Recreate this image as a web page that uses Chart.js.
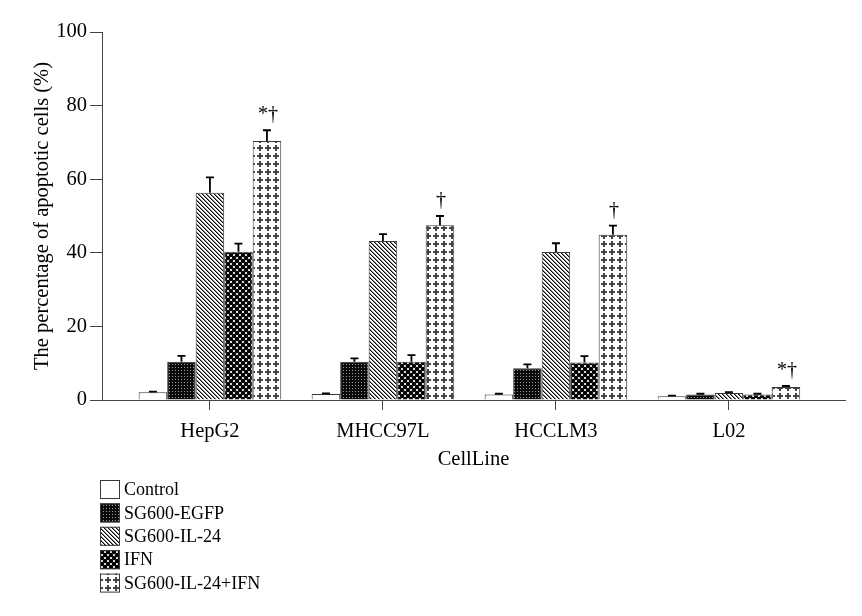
<!DOCTYPE html>
<html><head><meta charset="utf-8">
<script src="https://cdn.jsdelivr.net/npm/chart.js@4/dist/chart.umd.min.js"></script>
<style>html,body{margin:0;padding:0;background:#fff;}canvas{display:block;}</style>
</head><body>
<canvas id="c" width="862" height="616"></canvas>
<script>
// ---- data ----
const categories = ['HepG2', 'MHCC97L', 'HCCLM3', 'L02'];
const seriesNames = ['Control', 'SG600-EGFP', 'SG600-IL-24', 'IFN', 'SG600-IL-24+IFN'];
const control = [2.1, 1.6, 1.5, 1.0];
const egfp = [10.4, 10.4, 8.6, 1.5];
const il24 = [56.3, 43.2, 40.2, 1.9];
const ifn = [40.3, 10.4, 10.2, 1.5];
const combo = [70.4, 47.5, 44.9, 3.5];
const controlErr = [0.2, 0.2, 0.2, 0.2];
const egfpErr = [1.6, 0.9, 1.1, 0.2];
const il24Err = [4.2, 1.9, 2.4, 0.2];
const ifnErr = [2.2, 1.8, 1.7, 0.2];
const comboErr = [2.9, 2.5, 2.5, 0.3];
const comboMarks = ['*\u2020', '\u2020', '\u2020', '*\u2020'];
const yTicks = [0, 20, 40, 60, 80, 100];

// ---- patterns ----
function makePattern(size, draw) {
  const c = document.createElement('canvas');
  c.width = size; c.height = size;
  const g = c.getContext('2d');
  draw(g, size);
  return document.createElement('canvas').getContext('2d').createPattern(c, 'repeat');
}
const pWhite = '#ffffff';
const pEgfp = makePattern(3, (g, s) => {
  g.fillStyle = '#0a0a0a'; g.fillRect(0, 0, s, s);
  g.fillStyle = '#9a9a9a'; g.fillRect(1, 1, 1, 1);
});
const pIl24 = makePattern(4, (g, s) => {
  g.fillStyle = '#fff'; g.fillRect(0, 0, s, s);
  for (let i = 0; i < s; i++) {
    g.fillStyle = '#000'; g.fillRect(i, i, 1, 1);
    g.fillStyle = '#888'; g.fillRect((i + 1) % s, i, 1, 1);
  }
});
const pIfn = makePattern(6, (g, s) => {
  g.fillStyle = '#fff'; g.fillRect(0, 0, s, s);
  g.fillStyle = '#000';
  [[0,0],[6,0],[0,6],[6,6],[3,3]].forEach(([x,y]) => { g.beginPath(); g.arc(x, y, 2.2, 0, Math.PI*2); g.fill(); });
});
const pCombo = makePattern(8, (g, s) => {
  g.fillStyle = '#fff'; g.fillRect(0, 0, s, s);
  g.fillStyle = '#444';
  g.fillRect(1, 3, 6, 2);
  g.fillRect(3, 1, 2, 6);
});

const values = [control, egfp, il24, ifn, combo];
const errors = [controlErr, egfpErr, il24Err, ifnErr, comboErr];
const fills = [pWhite, pEgfp, pIl24, pIfn, pCombo];

const axisFont = { family: '"Liberation Serif", "Times New Roman", serif', size: 20.5 };
const legendFont = '18px "Liberation Serif", "Times New Roman", serif';

const datasets = values.map((arr, k) => ({
  label: seriesNames[k],
  data: arr.map((v, i) => ({ x: i, y: v })),
  backgroundColor: fills[k],
  borderColor: '#3a3a3a',
  borderWidth: 1,
  categoryPercentage: 0.824,
  barPercentage: 1.0
}));

const extras = {
  id: 'extras',
  afterDatasetsDraw(chart) {
    const ctx = chart.ctx;
    const ys = chart.scales.y;
    ctx.save();
    ctx.strokeStyle = '#000';
    ctx.lineWidth = 1.8;
    values.forEach((arr, k) => {
      const meta = chart.getDatasetMeta(k);
      arr.forEach((v, i) => {
        const bar = meta.data[i];
        const x = bar.x;
        const y0 = ys.getPixelForValue(v);
        const y1 = ys.getPixelForValue(v + errors[k][i]);
        ctx.beginPath();
        ctx.moveTo(x, y0); ctx.lineTo(x, y1);
        ctx.moveTo(x - 4, y1); ctx.lineTo(x + 4, y1);
        ctx.stroke();
      });
    });
    const meta = chart.getDatasetMeta(4);
    ctx.fillStyle = '#000';
    ctx.font = '20px "Liberation Serif", "Times New Roman", serif';
    ctx.textAlign = 'center';
    ctx.textBaseline = 'alphabetic';
    combo.forEach((v, i) => {
      const bar = meta.data[i];
      const y1 = ys.getPixelForValue(v + comboErr[i]);
      ctx.fillText(comboMarks[i], bar.x + 1, y1 - 10);
    });
    ctx.restore();
  },
  afterDraw(chart) {
    const ctx = chart.ctx;
    ctx.save();
    ctx.font = legendFont;
    ctx.textBaseline = 'middle';
    ctx.textAlign = 'left';
    seriesNames.forEach((name, k) => {
      const top = 480 + k * 23.4;
      ctx.fillStyle = fills[k];
      ctx.fillRect(100, top, 20, 19);
      ctx.strokeStyle = '#3a3a3a';
      ctx.lineWidth = 1;
      ctx.strokeRect(100.5, top + 0.5, 19, 18);
      ctx.fillStyle = '#000';
      ctx.fillText(name, 124, top + 10.5);
    });
    ctx.restore();
  }
};

new Chart(document.getElementById('c'), {
  type: 'bar',
  data: { datasets },
  options: {
    responsive: false,
    animation: false,
    devicePixelRatio: 1,
    layout: { padding: { top: 32, right: 17, bottom: 144, left: 0 } },
    plugins: { legend: { display: false }, tooltip: { enabled: false } },
    scales: {
      x: {
        type: 'linear',
        offset: false,
        min: -0.624,
        max: 3.671,
        afterBuildTicks: s => { s.ticks = categories.map((_, i) => ({ value: i })); },
        afterFit: s => { s.height = 72; },
        ticks: { callback: v => categories[v] ?? '', autoSkip: false, maxRotation: 0, padding: 9, font: axisFont, color: '#000' },
        grid: { offset: false, drawOnChartArea: false, tickLength: 10, color: '#444', lineWidth: 1 },
        border: { color: '#444', width: 1 },
        title: { display: true, text: 'CellLine', font: axisFont, color: '#000', padding: { top: 0, bottom: 0 } }
      },
      y: {
        min: 0,
        max: 100,
        afterBuildTicks: s => { s.ticks = yTicks.map(v => ({ value: v })); },
        afterFit: s => { s.width = 102; },
        ticks: { padding: 3, font: axisFont, color: '#000' },
        grid: { drawOnChartArea: false, tickLength: 12, color: '#444', lineWidth: 1 },
        border: { color: '#444', width: 1 },
        title: { display: true, text: 'The percentage of apoptotic cells (%)', font: axisFont, color: '#000', padding: { top: 30, bottom: 0 } }
      }
    }
  },
  plugins: [extras]
});
</script>
</body></html>
